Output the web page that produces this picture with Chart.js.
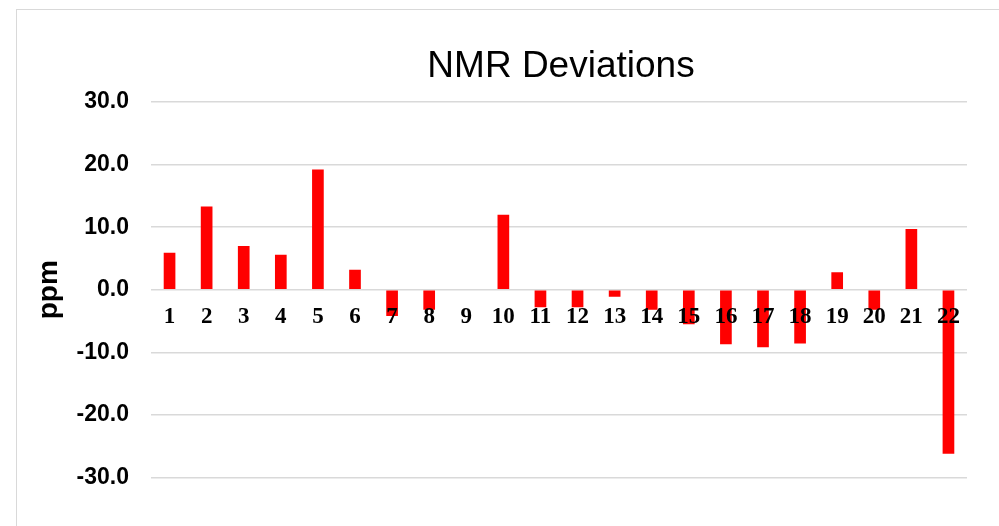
<!DOCTYPE html>
<html>
<head>
<meta charset="utf-8">
<script src="https://cdn.jsdelivr.net/npm/chart.js@4.4.0/dist/chart.umd.min.js"></script>
<style>
  html, body { margin: 0; padding: 0; background: #ffffff; overflow: hidden; }
  #wrap { position: relative; width: 999px; height: 526px; }
  #frame {
    position: absolute; left: 16px; top: 9px; width: 1100px; height: 700px;
    border: 1.5px solid #d9d9d9; box-sizing: border-box; pointer-events: none;
  }
  canvas { position: absolute; left: 0; top: 0; }
</style>
</head>
<body>
<div id="wrap">
  <div id="frame"></div>
  <canvas id="chart" width="999" height="526"></canvas>
</div>
<script>
// Peak numbers along the x axis
const peaks = ['1','2','3','4','5','6','7','8','9','10','11','12','13','14','15','16','17','18','19','20','21','22'];
// Chemical shift deviation for each peak (ppm)
const deviations = [5.9, 13.3, 7.0, 5.6, 19.2, 3.2, -4.2, -3.2, 0, 12.0, -2.8, -2.8, -1.1, -3.2, -5.5, -8.7, -9.2, -8.6, 2.8, -3.2, 9.7, -26.2];
// Value axis limits and spacing
const yMin = -30;
const yMax = 30;
const yStep = 10;

const chartTitle = 'NMR Deviations';
const yTitle = 'ppm';

// Title centred over the plot area
const titlePlugin = {
  id: 'plotTitle',
  afterDraw(chart) {
    const { ctx, chartArea } = chart;
    ctx.save();
    ctx.font = '37px "Liberation Sans", Arial, sans-serif';
    ctx.fillStyle = '#000000';
    ctx.textAlign = 'center';
    ctx.textBaseline = 'alphabetic';
    ctx.fillText(chartTitle, (chartArea.left + chartArea.right) / 2 + 2, 76.5);
    ctx.restore();
  }
};

new Chart(document.getElementById('chart'), {
  type: 'bar',
  data: {
    labels: peaks,
    datasets: [{
      data: deviations,
      backgroundColor: '#ff0000',
      borderWidth: 0,
      barPercentage: 0.315,
      categoryPercentage: 1.0
    }]
  },
  options: {
    responsive: false,
    animation: false,
    devicePixelRatio: 1,
    layout: { padding: { left: 0, right: 32, top: 102, bottom: 48.5 } },
    plugins: {
      legend: { display: false },
      title: { display: false },
      tooltip: { enabled: false }
    },
    scales: {
      x: {
        position: { y: 0 },
        grid: { display: false, drawTicks: false },
        border: { display: false },
        ticks: {
          z: 1,
          color: '#000000',
          padding: 14,
          maxRotation: 0,
          autoSkip: false,
          font: { family: '"Liberation Serif", "Times New Roman", serif', size: 23, weight: 'bold' }
        }
      },
      y: {
        min: yMin,
        max: yMax,
        afterFit(scale) { scale.width = 151; },
        grid: { color: '#d9d9d9', lineWidth: 1.5, drawTicks: false },
        border: { display: false },
        ticks: {
          stepSize: yStep,
          padding: 22,
          color: '#000000',
          font: { family: '"Liberation Sans", Arial, sans-serif', size: 23, weight: 'bold' },
          callback: (v) => Number(v).toFixed(1)
        },
        title: {
          display: true,
          text: yTitle,
          color: '#000000',
          padding: { top: 32, bottom: 0 },
          font: { family: '"Liberation Sans", Arial, sans-serif', size: 28, weight: 'bold' }
        }
      }
    }
  },
  plugins: [titlePlugin]
});
</script>
</body>
</html>
